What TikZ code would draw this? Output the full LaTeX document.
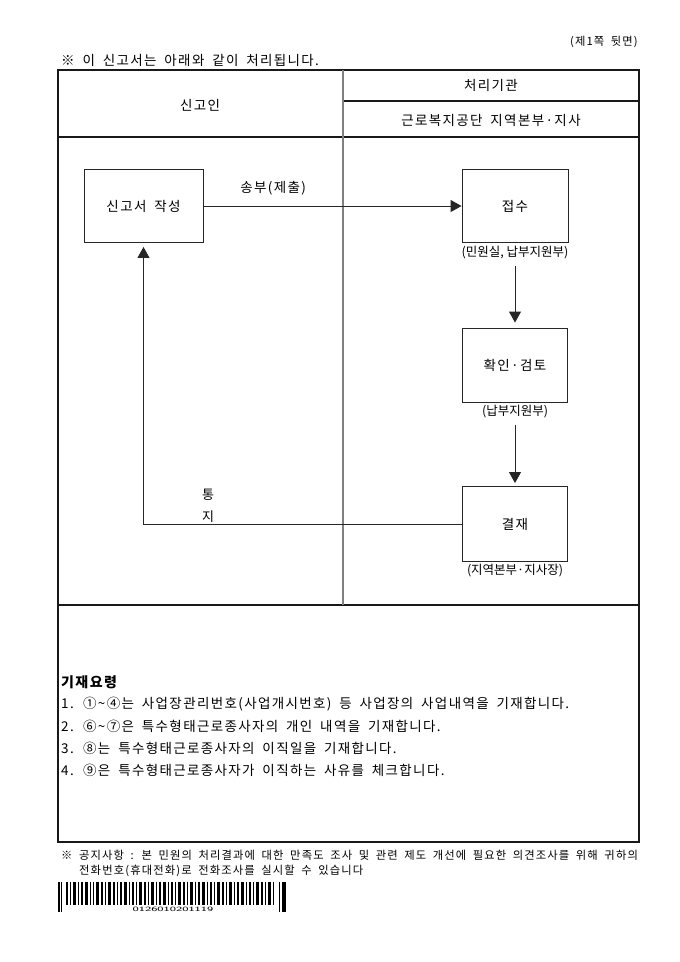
\documentclass[tikz,border=0pt]{standalone}
\usepackage{fontspec}
\setmainfont{Noto Sans CJK KR}
\newfontfamily\krwide{Noto Sans CJK KR}[LetterSpace=10, WordSpace=1.8]
\usepackage{tikz}
\usetikzlibrary{arrows.meta,positioning,calc}

\tikzset{
    txt/.style={font=\krwide\fontsize{13.5bp}{16bp}\selectfont, inner sep=0pt},
    small/.style={font=\krwide\fontsize{11.3bp}{14bp}\selectfont, inner sep=0pt},
    who/.style={font=\fontsize{12.5bp}{14bp}\selectfont, inner sep=0pt},
    stepbox/.style={draw=black!85, line width=0.9bp, font=\krwide\fontsize{13.5bp}{16bp}\selectfont},
    flow/.style={draw=black!85, line width=0.9bp, -{Triangle[width=12bp,length=11bp]}},
    frame/.style={draw=black!90, line width=1.2bp},
}

\begin{document}
\begin{tikzpicture}[x=1bp, y=-1bp]
    \useasboundingbox[fill=white] (0,0) rectangle (680,962);

    % Heading
    \node[small, anchor=east] (page) at (638,42) {(제1쪽 뒷면)};
    \node[txt, anchor=west] (title) at (61,60) {※ 이 신고서는 아래와 같이 처리됩니다.};

    % Table
    \draw[frame] (58,70) rectangle (639,842);
    \draw[frame] (58,137) -- (639,137);
    \draw[frame] (58,605) -- (639,605);
    \draw[frame] (343,101) -- (639,101);
    \draw[draw=black!50, line width=1.3bp] (343,70) -- (343,605);

    \node[txt] (applicant) at (200,105) {신고인};
    \node[txt] (office) at (491,85) {처리기관};
    \node[txt] (branch) at (491,120) {근로복지공단 지역본부·지사};

    % Steps
    \node[stepbox, minimum width=119bp, minimum height=73bp] (write) at (143.5,206) {신고서 작성};
    \node[stepbox, minimum width=106bp, minimum height=73bp] (receive) at (515,206) {접수};
    \node[who] (receivewho) at (515,253) {(민원실, 납부지원부)};
    \node[stepbox, minimum width=105bp, minimum height=74bp] (review) at (515,365) {확인·검토};
    \node[who] (reviewwho) at (515,412) {(납부지원부)};
    \node[stepbox, minimum width=105bp, minimum height=75bp] (decide) at (515,524) {결재};
    \node[who] (decidewho) at (515,571) {(지역본부·지사장)};

    \draw[flow] (write.east) -- node[txt, pos=0.27, above=10bp] (send) {송부(제출)} (receive.west);
    \draw[flow, shorten <=6bp, shorten >=5bp] (receivewho.south) -- (review.north);
    \draw[flow, shorten <=6bp, shorten >=3bp] (reviewwho.south) -- (decide.north);
    \draw[flow, shorten >=4bp] (decide.west) -| (write.south);
    \node[txt, align=center, font=\krwide\fontsize{13bp}{22bp}\selectfont] (notice) at (208,506) {통\\지};

    % Notes
    \node[txt, anchor=west, font=\krwide\fontsize{14bp}{16bp}\selectfont\bfseries] (guide) at (61,682) {기재요령};
    \foreach \y/\item in {704/{1. ①\textasciitilde④는 사업장관리번호(사업개시번호) 등 사업장의 사업내역을 기재합니다.},
                         726/{2. ⑥\textasciitilde⑦은 특수형태근로종사자의 개인 내역을 기재합니다.},
                         748/{3. ⑧는 특수형태근로종사자의 이직일을 기재합니다.},
                         770/{4. ⑨은 특수형태근로종사자가 이직하는 사유를 체크합니다.}} {
        \node[txt, anchor=west] at (61,\y) {\item};
    }

    % Footer
    \node[small, anchor=west] (note) at (61,855) {※ 공지사항 : 본 민원의 처리결과에 대한 만족도 조사 및 관련 제도 개선에 필요한 의견조사를 위해 귀하의};
    \node[small, anchor=west] (note2) at (79,871) {전화번호(휴대전화)로 전화조사를 실시할 수 있습니다};

    % Barcode
    \foreach \x/\w in {58/2, 61/1, 279/1, 282/4} {
        \fill[black] (\x,882) rectangle (\x+\w,912);
    }
    \foreach \x/\w in {66/2, 70/1, 73/3, 78/1, 81/2, 85/3, 90/1, 93/1, 96/3, 101/2, 105/1, 108/3, 113/2,
                       117/1, 120/2, 124/3, 129/1, 132/2, 136/1, 139/3, 144/2, 148/1, 151/3, 156/1, 159/2,
                       163/3, 168/1, 171/2, 175/1, 178/3, 183/2, 187/1, 190/3, 195/1, 198/2, 202/3, 207/1,
                       210/2, 214/1, 217/3, 222/2, 226/1, 229/3, 234/1, 237/2, 241/3, 246/1, 249/2, 253/1,
                       256/3, 261/2, 265/1, 268/3, 273/1} {
        \fill[black] (\x,882) rectangle (\x+\w,905);
    }
    \node[font=\sffamily\fontsize{6.5bp}{7bp}\selectfont, inner sep=0pt] (code) at (173,909) {\scalebox{1.8}[1]{0126010201119}};
\end{tikzpicture}
\end{document}
